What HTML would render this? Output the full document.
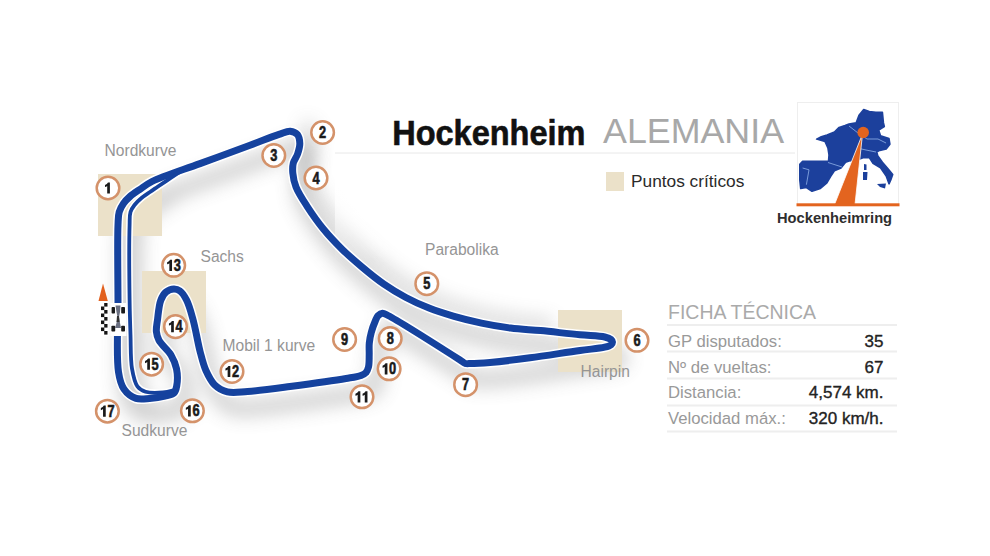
<!DOCTYPE html>
<html><head><meta charset="utf-8">
<style>
html,body{margin:0;padding:0;background:#fff;width:990px;height:556px;overflow:hidden}
svg{position:absolute;left:0;top:0}
text{font-family:"Liberation Sans",sans-serif}
</style></head><body>
<svg width="990" height="556" viewBox="0 0 990 556">
<defs>
<filter id="sh" x="-30%" y="-30%" width="160%" height="160%"><feGaussianBlur stdDeviation="9"/></filter>
<linearGradient id="wfade" x1="0" y1="0" x2="0" y2="1"><stop offset="0" stop-color="#fff"/><stop offset="0.55" stop-color="#fff"/><stop offset="1" stop-color="#fff" stop-opacity="0"/></linearGradient>
<path id="trk" d="M118.5,372.0 C116.0,356.4 118.1,324.2 118.0,300.0 C117.9,275.3 117.3,239.7 118.0,225.0 C118.3,218.9 118.1,215.8 119.2,212.0 C120.1,208.8 121.7,206.1 123.5,203.5 C125.3,200.9 127.5,198.7 130.0,196.5 C132.9,194.0 136.5,191.7 140.0,189.3 C143.8,186.7 146.5,184.3 152.0,181.5 C162.5,176.2 183.8,169.6 200.0,163.6 C216.5,157.5 235.6,150.6 250.0,145.3 C261.0,141.2 271.6,136.9 279.0,134.4 C283.6,132.9 286.9,130.9 290.2,131.2 C292.9,131.4 295.8,132.7 297.4,134.6 C299.1,136.7 299.7,140.4 299.8,143.5 C299.9,146.8 298.7,150.7 297.6,154.0 C296.5,157.2 294.1,159.8 293.3,163.0 C292.5,166.2 292.5,169.4 292.8,173.0 C293.2,177.3 294.1,182.1 296.0,187.0 C298.4,193.1 302.8,199.7 307.1,206.3 C311.9,213.7 317.7,222.0 323.6,229.2 C329.4,236.3 335.8,243.0 342.3,249.4 C348.8,255.8 355.7,261.7 362.6,267.5 C369.5,273.3 376.6,279.1 383.9,284.1 C391.0,289.0 398.4,293.5 405.9,297.5 C413.4,301.5 421.1,305.0 429.0,308.1 C437.1,311.3 445.5,313.9 454.1,316.4 C463.0,319.0 472.2,321.2 481.5,323.1 C491.0,325.1 500.8,326.8 510.6,328.0 C520.5,329.3 529.9,329.6 540.6,330.6 C552.8,331.8 568.4,333.7 580.0,334.8 C589.2,335.7 599.2,335.7 604.7,337.0 C607.6,337.7 609.7,338.4 611.0,339.5 C611.8,340.2 612.5,341.1 612.5,342.0 C612.5,342.9 611.9,344.0 611.0,344.8 C609.7,345.9 607.5,346.5 604.7,347.2 C599.2,348.6 589.7,349.1 580.0,350.5 C566.2,352.4 545.8,355.7 530.0,357.8 C515.9,359.7 501.1,361.5 490.0,362.5 C482.2,363.2 474.4,363.6 470.0,363.6 C467.8,363.6 466.6,363.8 465.0,363.3 C463.3,362.7 462.7,361.7 460.0,360.0 C450.0,353.6 398.5,320.8 388.0,315.5 C385.2,314.1 384.2,313.2 382.5,313.3 C380.9,313.4 379.2,314.6 378.0,315.8 C376.7,317.1 376.2,318.9 375.3,321.0 C374.0,324.0 372.3,328.6 371.3,332.4 C370.3,336.0 369.7,339.3 369.3,343.0 C368.9,346.9 369.3,351.0 369.2,355.0 C369.1,359.0 369.3,363.8 368.5,367.0 C367.9,369.2 367.3,371.1 366.0,372.5 C364.8,373.9 363.2,374.6 361.0,375.5 C357.4,376.9 352.6,377.4 346.0,378.5 C333.3,380.7 307.4,384.2 290.0,386.5 C274.9,388.5 259.2,390.7 247.6,391.5 C239.6,392.0 233.2,393.4 227.4,391.9 C222.4,390.7 218.0,388.1 214.5,384.7 C210.7,381.1 208.2,375.6 205.8,370.3 C203.3,364.6 202.0,358.7 200.1,351.6 C197.7,342.3 195.5,328.4 192.9,319.1 C190.9,311.9 189.2,305.2 186.6,300.2 C184.7,296.4 182.5,292.8 180.0,291.0 C178.2,289.6 176.1,288.9 174.0,288.9 C171.5,288.9 168.2,290.2 166.0,292.0 C163.7,293.9 162.1,296.7 160.8,300.2 C158.9,305.1 158.3,313.4 157.6,319.1 C157.0,323.7 156.0,327.9 156.4,331.7 C156.7,334.9 157.4,337.3 159.0,340.4 C161.4,344.9 168.1,350.1 171.1,355.2 C173.7,359.6 175.5,363.8 176.5,368.7 C177.6,374.0 177.5,381.6 176.7,386.0 C176.2,388.9 175.7,391.3 174.0,393.0 C172.1,394.9 168.4,395.2 165.0,396.0 C160.6,397.1 154.5,398.0 149.5,398.4 C144.9,398.8 140.2,399.8 136.0,398.4 C131.6,396.9 126.8,393.2 123.9,389.0 C120.8,384.5 119.7,379.8 118.5,372.0 Z"/>
<path id="pit" d="M172.5,390.5 C172.5,390.5 166.7,392.1 163.0,392.4 C158.1,392.8 150.1,393.2 145.5,391.7 C142.1,390.6 139.5,389.1 137.4,386.3 C134.5,382.4 133.2,375.6 132.0,368.7 C130.4,359.4 130.9,346.3 130.5,335.0 C130.1,323.4 129.8,313.9 129.6,300.0 C129.3,279.7 129.1,239.7 129.6,225.0 C129.8,218.9 129.4,215.6 130.5,212.0 C131.4,209.2 132.8,207.2 134.5,205.0 C136.4,202.5 139.0,200.1 141.5,198.0 C144.1,195.8 147.2,193.9 150.0,192.0 C152.7,190.1 155.1,188.5 158.0,186.5 C161.6,184.1 166.0,181.2 170.0,178.5 C174.0,175.8 182.0,170.5 182.0,170.5"/>
<path id="para" d="M290.2,131.2 C290.2,131.2 295.8,132.7 297.4,134.6 C299.1,136.7 299.7,140.4 299.8,143.5 C299.9,146.8 298.7,150.7 297.6,154.0 C296.5,157.2 294.1,159.8 293.3,163.0 C292.5,166.2 292.5,169.4 292.8,173.0 C293.2,177.3 294.1,182.1 296.0,187.0 C298.4,193.1 302.8,199.7 307.1,206.3 C311.9,213.7 317.7,222.0 323.6,229.2 C329.4,236.3 335.8,243.0 342.3,249.4 C348.8,255.8 355.7,261.7 362.6,267.5 C369.5,273.3 376.6,279.1 383.9,284.1 C391.0,289.0 398.4,293.5 405.9,297.5 C413.4,301.5 421.1,305.0 429.0,308.1 C437.1,311.3 445.5,313.9 454.1,316.4 C463.0,319.0 472.2,321.2 481.5,323.1 C491.0,325.1 500.8,326.8 510.6,328.0 C520.5,329.3 540.6,330.6 540.6,330.6"/>
</defs>
<!-- shadow -->
<g filter="url(#sh)" opacity="0.3" transform="translate(8,16)">
<use href="#trk" fill="none" stroke="#666" stroke-width="16"/>
<use href="#pit" fill="none" stroke="#666" stroke-width="10"/>
</g>
<g filter="url(#sh)" opacity="0.25" transform="translate(12,-6)">
<use href="#para" fill="none" stroke="#666" stroke-width="12"/>
</g>
<rect x="335" y="90" width="470" height="170" fill="url(#wfade)"/>
<!-- critical boxes -->
<g fill="#ebe1c9">
<rect x="98" y="174" width="64" height="62"/>
<rect x="142" y="271" width="64" height="62"/>
<rect x="558" y="310" width="64" height="62"/>
<rect x="606" y="172" width="18" height="19"/>
</g>
<!-- track -->
<g fill="none" stroke-linejoin="round" stroke-linecap="round">
<use href="#trk" stroke="#fff" stroke-width="10"/>
<use href="#pit" stroke="#fff" stroke-width="7"/>
<use href="#trk" stroke="#15429e" stroke-width="7"/>
<use href="#pit" stroke="#15429e" stroke-width="3.8"/>
</g>
<!-- start: arrow, checkers, car -->
<polygon points="103,283.5 98.5,301 107.8,301" fill="#e2601e"/>
<rect x="99.5" y="302" width="9" height="34" fill="#fff"/>
<g fill="#151515"><rect x="104.2" y="303.0" width="3.3" height="3.6"/><rect x="101" y="306.5" width="3.3" height="3.6"/><rect x="104.2" y="310.0" width="3.3" height="3.6"/><rect x="101" y="313.5" width="3.3" height="3.6"/><rect x="104.2" y="317.0" width="3.3" height="3.6"/><rect x="101" y="320.5" width="3.3" height="3.6"/><rect x="104.2" y="324.0" width="3.3" height="3.6"/><rect x="101" y="327.5" width="3.3" height="3.6"/><rect x="104.2" y="331.0" width="3.3" height="3.6"/></g>
<rect x="110.5" y="303" width="16" height="33" fill="#fff"/>
<g fill="#1b1b1b">
<rect x="111.6" y="307" width="3.4" height="6.6" rx="0.8"/><rect x="121.2" y="307" width="3.8" height="6.6" rx="0.8"/>
<rect x="111.4" y="325.8" width="3.8" height="5.8" rx="0.8"/><rect x="121.2" y="325.8" width="3.8" height="5.8" rx="0.8"/>
</g>
<path d="M115.5,305.5 L120.5,305.5 L120,312 L119,317 L120,323 L121,328 L115,328 L116.5,323 L117.5,317 L116.5,312 Z" fill="#6a6f80"/>
<path d="M117,316 L119,316 L119.5,322 L116.5,322 Z" fill="#333"/>
<!-- number circles -->
<g fill="#fff" stroke="#d4926a" stroke-width="2.5"><circle cx="108" cy="188" r="11.3"/><circle cx="322.6" cy="132.5" r="11.3"/><circle cx="273.8" cy="155.5" r="11.3"/><circle cx="316" cy="178" r="11.3"/><circle cx="426.8" cy="283.7" r="11.3"/><circle cx="637" cy="340.3" r="11.3"/><circle cx="465.6" cy="384.7" r="11.3"/><circle cx="390.2" cy="338.5" r="11.3"/><circle cx="344.6" cy="339.5" r="11.3"/><circle cx="389.1" cy="368.8" r="11.3"/><circle cx="362" cy="396.8" r="11.3"/><circle cx="232" cy="371.5" r="11.3"/><circle cx="173.7" cy="265.3" r="11.3"/><circle cx="175.5" cy="326.6" r="11.3"/><circle cx="151.6" cy="364.2" r="11.3"/><circle cx="192.4" cy="410.8" r="11.3"/><circle cx="107.4" cy="411.2" r="11.3"/></g>
<g font-weight="bold" font-size="16" fill="#1a1a1a" text-anchor="middle" stroke="#1a1a1a" stroke-width="0.6"><text transform="translate(322.60,138.10) scale(0.8,1)">2</text><text transform="translate(273.80,161.10) scale(0.8,1)">3</text><text transform="translate(316.00,183.60) scale(0.8,1)">4</text><text transform="translate(426.80,289.30) scale(0.8,1)">5</text><text transform="translate(637.00,345.90) scale(0.8,1)">6</text><text transform="translate(465.60,390.30) scale(0.8,1)">7</text><text transform="translate(390.20,344.10) scale(0.8,1)">8</text><text transform="translate(344.60,345.10) scale(0.8,1)">9</text><text transform="translate(392.66,374.40) scale(0.8,1)">0</text><text transform="translate(235.56,377.10) scale(0.8,1)">2</text><text transform="translate(177.26,270.90) scale(0.8,1)">3</text><text transform="translate(179.06,332.20) scale(0.8,1)">4</text><text transform="translate(155.16,369.80) scale(0.8,1)">5</text><text transform="translate(195.96,416.40) scale(0.8,1)">6</text><text transform="translate(110.96,416.80) scale(0.8,1)">7</text></g>
<g fill="#1a1a1a"><path transform="translate(108.40,193.60)" d="M-1.2,0 L1.5,0 L1.5,-11.2 L-0.4,-11.2 Q-1.3,-9.4 -3.4,-8.7 L-3.4,-6.6 Q-2.2,-6.9 -1.2,-7.7 Z"/><path transform="translate(385.94,374.40)" d="M-1.2,0 L1.5,0 L1.5,-11.2 L-0.4,-11.2 Q-1.3,-9.4 -3.4,-8.7 L-3.4,-6.6 Q-2.2,-6.9 -1.2,-7.7 Z"/><path transform="translate(358.84,402.40)" d="M-1.2,0 L1.5,0 L1.5,-11.2 L-0.4,-11.2 Q-1.3,-9.4 -3.4,-8.7 L-3.4,-6.6 Q-2.2,-6.9 -1.2,-7.7 Z"/><path transform="translate(365.96,402.40)" d="M-1.2,0 L1.5,0 L1.5,-11.2 L-0.4,-11.2 Q-1.3,-9.4 -3.4,-8.7 L-3.4,-6.6 Q-2.2,-6.9 -1.2,-7.7 Z"/><path transform="translate(228.84,377.10)" d="M-1.2,0 L1.5,0 L1.5,-11.2 L-0.4,-11.2 Q-1.3,-9.4 -3.4,-8.7 L-3.4,-6.6 Q-2.2,-6.9 -1.2,-7.7 Z"/><path transform="translate(170.54,270.90)" d="M-1.2,0 L1.5,0 L1.5,-11.2 L-0.4,-11.2 Q-1.3,-9.4 -3.4,-8.7 L-3.4,-6.6 Q-2.2,-6.9 -1.2,-7.7 Z"/><path transform="translate(172.34,332.20)" d="M-1.2,0 L1.5,0 L1.5,-11.2 L-0.4,-11.2 Q-1.3,-9.4 -3.4,-8.7 L-3.4,-6.6 Q-2.2,-6.9 -1.2,-7.7 Z"/><path transform="translate(148.44,369.80)" d="M-1.2,0 L1.5,0 L1.5,-11.2 L-0.4,-11.2 Q-1.3,-9.4 -3.4,-8.7 L-3.4,-6.6 Q-2.2,-6.9 -1.2,-7.7 Z"/><path transform="translate(189.24,416.40)" d="M-1.2,0 L1.5,0 L1.5,-11.2 L-0.4,-11.2 Q-1.3,-9.4 -3.4,-8.7 L-3.4,-6.6 Q-2.2,-6.9 -1.2,-7.7 Z"/><path transform="translate(104.24,416.80)" d="M-1.2,0 L1.5,0 L1.5,-11.2 L-0.4,-11.2 Q-1.3,-9.4 -3.4,-8.7 L-3.4,-6.6 Q-2.2,-6.9 -1.2,-7.7 Z"/></g>
<!-- labels -->
<g font-size="15.6" fill="#959595">
<text x="104.5" y="156">Nordkurve</text>
<text x="200.5" y="261.6">Sachs</text>
<text x="425" y="254.8">Parabolika</text>
<text x="222.5" y="350.7">Mobil 1 kurve</text>
<text x="580.5" y="376.8">Hairpin</text>
<text x="121.5" y="435.5">Sudkurve</text>
</g>
<!-- title -->
<line x1="335" y1="153" x2="795" y2="153" stroke="#e8e8e8" stroke-width="1"/>
<text x="0" y="0" font-size="35" font-weight="bold" fill="#111" stroke="#111" stroke-width="0.6" transform="translate(392.2 144.9) scale(0.929 1)">Hockenheim</text>
<text x="603" y="142.8" font-size="35.8" fill="#a8a8a8">ALEMANIA</text>
<text x="631" y="187" font-size="17.3" fill="#2a2a2a">Puntos críticos</text>
<!-- map box -->
<rect x="797.5" y="102.5" width="101" height="102" fill="#fff" stroke="#eee" stroke-width="1"/>
<g>
<path d="M816.6,139.1 L821.3,136.7 L827,134.9 L834.4,132 L839.1,127.4 L845,125.5 L849,124 L856.2,122.7 L859,115.2 L863.7,109.6 L869.3,111.5 L875.9,112.4 L882.4,112.4 L883.4,122.7 L884.3,126.5 L878.7,130.2 L880.5,135.8 L889,138.6 L889.9,144.2 L886.2,148.9 L878.7,150.8 L876.8,152 L877.7,155.7 L882.4,162.3 L888,168.8 L892.7,174.5 L890.8,180 L889,183.8 L886.2,176 L880.5,167.9 L873,163.2 L869.3,157.6 L863.7,157.6 L857,160 L849,161 L845.6,162.3 L841,167.9 L834.4,170.7 L830.7,176.3 L826.9,182.9 L820.4,188.5 L812,191.3 L806.4,187.5 L800.7,188.5 L799.8,180 L799.8,164.2 L802.6,161.4 L828.5,161.4 L829,155 L827.9,148 L825,141.4 Z" fill="#1c409c" stroke="#1c409c" stroke-width="1.6" stroke-linejoin="round"/>
<path d="M864,164 L866.5,164.5 L866.5,170 L864,170 Z M863,172 L867.5,172 L867,180 L863,180 Z" fill="#1c409c"/>
<path d="M877,184 L886,183.5 L885,188.5 L880,187 Z" fill="#1c409c"/>
<g stroke="#8fb0e8" stroke-width="0.9" fill="none" opacity="0.9">
<path d="M828,162.5 L842,167"/>
<path d="M802.6,168 L809,169.8 L806.4,184.7"/>
<path d="M849,126 L858,133 L867,139 L878,139 L886,143"/>
<path d="M857,148 L866,150 L876,152"/>
</g>
<polygon points="862.5,134 855,204.5 834.5,204.5" fill="#e3641f" stroke="#fff" stroke-width="0.8" stroke-linejoin="round"/>
<circle cx="863.2" cy="132.5" r="5.8" fill="#e3641f"/>
</g>
<rect x="796.5" y="203.3" width="103" height="3" fill="#e3641f"/>
<text x="777" y="222.8" font-size="14.7" font-weight="bold" fill="#2e2e2e">Hockenheimring</text>
<!-- ficha -->
<text x="668" y="318.5" font-size="19.5" fill="#aaa">FICHA TÉCNICA</text>
<g stroke="#eee" stroke-width="2">
<line x1="667" y1="325" x2="897" y2="325"/>
<line x1="667" y1="351.5" x2="897" y2="351.5"/>
<line x1="667" y1="378.5" x2="897" y2="378.5"/>
<line x1="667" y1="405.4" x2="897" y2="405.4"/>
<line x1="667" y1="431.6" x2="897" y2="431.6"/>
</g>
<g font-size="16.7" fill="#999">
<text x="668" y="346.5">GP disputados:</text>
<text x="668" y="372.5">Nº de vueltas:</text>
<text x="668" y="398.2">Distancia:</text>
<text x="668" y="424.3">Velocidad máx.:</text>
</g>
<g font-size="17" fill="#222" stroke="#222" stroke-width="0.35" text-anchor="end">
<text x="883.5" y="346.5">35</text>
<text x="883.5" y="372.5">67</text>
<text x="883.5" y="398.2">4,574 km.</text>
<text x="883.5" y="424.3">320 km/h.</text>
</g>
</svg>
</body></html>
